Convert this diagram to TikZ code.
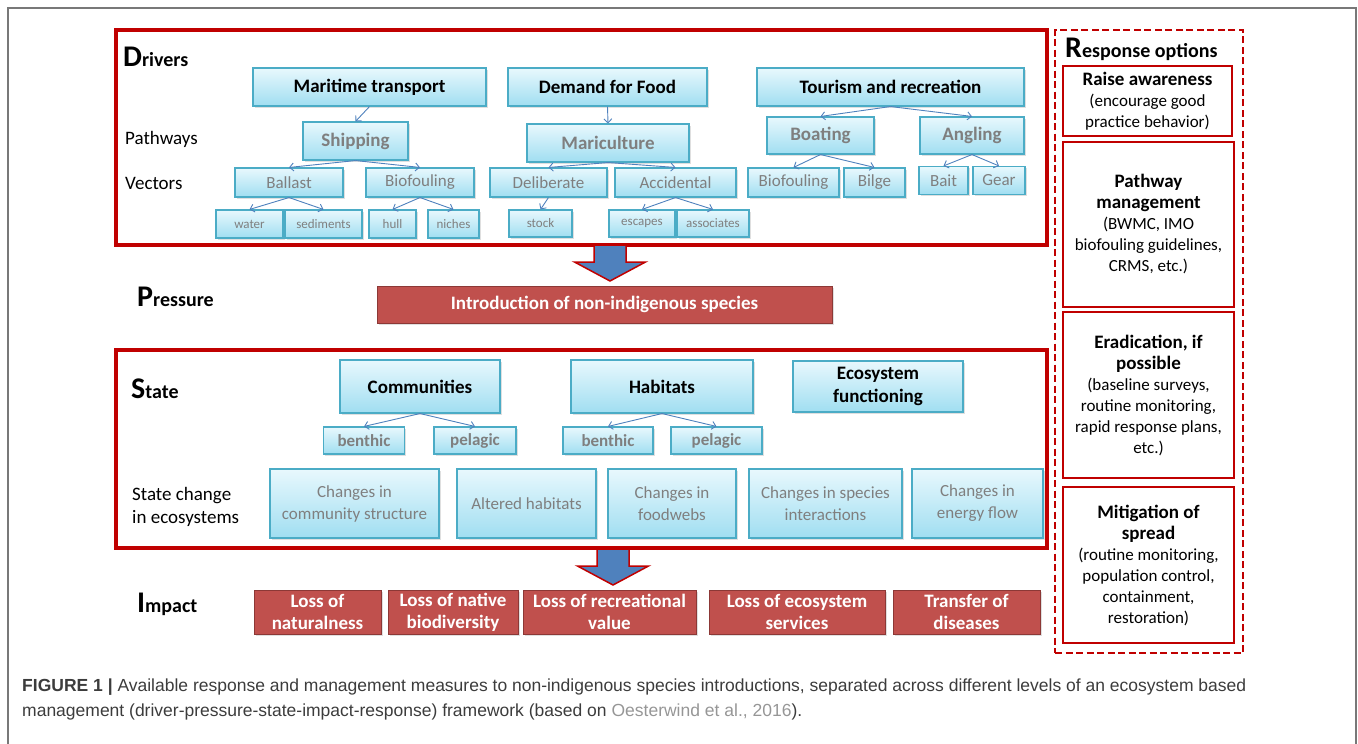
\documentclass[tikz,border=0pt]{standalone}
\usepackage{fontspec}
\setmainfont{Carlito}
\newfontfamily\capfont{Liberation Sans}
\usetikzlibrary{
  arrows.meta,
  shadows,      % "drop shadow"
}
\definecolor{darkred}{RGB}{192,0,0}
\definecolor{softred}{RGB}{192,80,77}
\definecolor{edgered}{RGB}{140,56,54}
\definecolor{aqua}{RGB}{75,172,198}
\definecolor{linkblue}{RGB}{79,129,189}
\definecolor{cyantop}{RGB}{232,248,253}
\definecolor{cyanbot}{RGB}{160,222,241}
\definecolor{midgray}{RGB}{127,127,127}
\definecolor{framegray}{RGB}{120,120,120}
\definecolor{capgray}{RGB}{60,60,60}
\definecolor{refgray}{RGB}{150,150,150}
\newcommand{\lvltitle}[2]{\bfseries{\fontsize{30}{30}\selectfont #1}{\fontsize{20}{20}\selectfont #2}}
\newcommand{\rtitle}[1]{{\fontsize{19}{23}\selectfont\bfseries #1}}
\newcommand{\blockarrow}[3]{% x, top, tip
  \draw[blockarr] (#1-16,#2) -- (#1+16,#2) -- (#1+16,#3-19) -- (#1+35.5,#3-19)
    -- (#1,#3) -- (#1-35.5,#3-19) -- (#1-16,#3-19) -- cycle;}
\tikzset{
  font=\fontsize{19}{23}\selectfont,
  >={Straight Barb[length=4pt,width=8pt]},
  wh/.style 2 args={minimum width=#1, minimum height=#2},
  cyanbox/.style={
    draw=aqua,
    line width=1.1pt,
    top color=cyantop,
    bottom color=cyanbot,
    inner sep=0pt,
    align=center,
    drop shadow={opacity=0.25,shadow xshift=1.5pt,shadow yshift=-1.5pt}
  },
  topbox/.style={cyanbox, font=\fontsize{19}{23}\selectfont\bfseries},
  pathbox/.style={cyanbox, text=midgray, font=\fontsize{19}{23}\selectfont\bfseries},
  vecbox/.style={cyanbox, text=midgray, font=\fontsize{17}{21}\selectfont},
  subbox/.style={cyanbox, text=midgray, font=\fontsize{13}{16}\selectfont},
  kindbox/.style={cyanbox, text=midgray, font=\fontsize{17}{21}\selectfont\bfseries},
  changebox/.style={cyanbox, text=midgray, font=\fontsize{17}{22}\selectfont},
  impbox/.style={
    draw=edgered,
    line width=1pt,
    fill=softred,
    text=white,
    inner sep=0pt,
    align=center,
    font=\fontsize{19}{22}\selectfont\bfseries,
    drop shadow={opacity=0.25,shadow xshift=1.5pt,shadow yshift=-1.5pt}
  },
  respbox/.style={
    draw=darkred,
    line width=1.3pt,
    fill=white,
    inner sep=0pt,
    align=center,
    font=\fontsize{17}{21}\selectfont
  },
  levelframe/.style={draw=darkred, line width=4pt, inner sep=0pt},
  respframe/.style={draw=darkred, line width=2.5pt, dash pattern=on 7pt off 3.5pt, inner sep=0pt},
  link/.style={->, color=linkblue, line width=0.9pt},
  blockarr/.style={fill=linkblue, draw=darkred, line width=1.5pt, line join=miter},
  lvl/.style={anchor=base west, inner sep=0pt},
  side/.style={anchor=west, inner sep=0pt, align=left},
  caption/.style={anchor=base west, inner sep=0pt, text=capgray, font=\capfont\fontsize{17.5}{21}\selectfont}
}

\begin{document}
\begin{tikzpicture}[x=1pt, y=-1pt]
\useasboundingbox (0,0) rectangle (1358,744);
\draw[framegray, line width=1.2pt] (8,744) -- (8,8) -- (1356,8) -- (1356,744);

% level frames
\node[levelframe, wh={931}{215}] (drivers) at (581.5,137.5) {};
\node[levelframe, wh={931}{198}] (state) at (581.5,449) {};
\node[respframe, wh={188}{623}] (response) at (1149,341.5) {};

\node[lvl] (tdrv) at (123,66) {\lvltitle{D}{rivers}};
\node[lvl] (tprs) at (137,306) {\lvltitle{P}{ressure}};
\node[lvl] (tsta) at (131,398) {\lvltitle{S}{tate}};
\node[lvl] (timp) at (137,612) {\lvltitle{I}{mpact}};
\node[lvl] (tres) at (1065,57) {\lvltitle{R}{esponse options}};

% drivers
\node[topbox, wh={233}{38}] (mt) at (369.5,87) {Maritime transport};
\node[topbox, wh={199}{38}] (food) at (607.5,87) {Demand for Food};
\node[topbox, wh={267}{38}] (tour) at (890.5,87) {Tourism and recreation};

\node[side] (lpath) at (125,139) {Pathways};
\node[side] (lvec) at (125,183) {Vectors};

\node[pathbox, wh={105}{38}] (ship) at (355.5,141) {Shipping};
\node[pathbox, wh={162}{38}] (maric) at (608,143) {Mariculture};
\node[pathbox, wh={107}{37}] (boat) at (820.5,135.5) {Boating};
\node[pathbox, wh={104}{37}] (angl) at (972,135.5) {Angling};

\node[vecbox, wh={108}{29}] (ballast) at (289,182.5) {Ballast};
\node[vecbox, wh={108}{29}] (biofs) at (420,182.5) {Biofouling};
\node[vecbox, wh={117}{29}] (delib) at (548.5,182.5) {Deliberate};
\node[vecbox, wh={121}{29}] (accid) at (675.5,182.5) {Accidental};
\node[vecbox, wh={91}{29}] (biofb) at (793.5,182.5) {Biofouling};
\node[vecbox, wh={61}{29}] (bilge) at (874.5,182.5) {Bilge};
\node[vecbox, wh={49}{28}] (bait) at (943.5,180.5) {Bait};
\node[vecbox, wh={52}{28}] (gear) at (999,180.5) {Gear};

\node[subbox, wh={67}{28}] (water) at (249.5,224) {water};
\node[subbox, wh={77}{28}] (sedim) at (323.5,224) {sediments};
\node[subbox, wh={47}{28}] (hull) at (392.5,224) {hull};
\node[subbox, wh={51}{28}] (niches) at (453.5,224) {niches};
\node[subbox, wh={63}{27}] (stock) at (540.5,223.5) {stock};
\node[subbox, wh={66}{27}] (escap) at (642,223.5) {escapes};
\node[subbox, wh={72}{27}] (assoc) at (713,223.5) {associates};

\path[link]
  (mt.south)      edge (ship.north)
  (ship.south)    edge (ballast.north) edge (biofs.north)
  (ballast.south) edge (water.north)   edge (sedim.north)
  (biofs.south)   edge (hull.north)    edge (niches.north)
  (food.south)    edge (maric.north)
  (maric.south)   edge (delib.north)   edge (accid.north)
  (delib.south)   edge (stock.north)
  (accid.south)   edge (escap.north)   edge (assoc.north)
  (tour.south)    edge (boat.north)    edge (angl.north)
  (boat.south)    edge (biofb.north)   edge (bilge.north)
  (angl.south)    edge (bait.north)    edge (gear.north);

% pressure
\blockarrow{610}{245}{281}
\node[impbox, wh={455}{37}] (intro) at (604.5,304.5) {Introduction of non-indigenous species};

% state
\node[topbox, wh={160}{53}] (comm) at (420,386.5) {Communities};
\node[topbox, wh={182}{53}] (hab) at (662,386.5) {Habitats};
\node[topbox, wh={170}{51}] (ecof) at (878,386.5) {Ecosystem\\functioning};

\node[kindbox, wh={81}{27}] (benc) at (364,440.5) {benthic};
\node[kindbox, wh={82}{27}] (pelc) at (475,440.5) {pelagic};
\node[kindbox, wh={90}{27}] (benh) at (608,440.5) {benthic};
\node[kindbox, wh={91}{27}] (pelh) at (716.5,440.5) {pelagic};

\path[link]
  (comm.south) edge (benc.north) edge (pelc.north)
  (hab.south)  edge (benh.north) edge (pelh.north);

\node[side] (lchg) at (132,506.5) {State change\\in ecosystems};
\node[changebox, wh={169}{69}] (ch1) at (354.5,503.5) {Changes in\\community structure};
\node[changebox, wh={139}{69}] (ch2) at (526.5,503.5) {Altered habitats};
\node[changebox, wh={128}{69}] (ch3) at (672,503.5) {Changes in\\foodwebs};
\node[changebox, wh={153}{69}] (ch4) at (825.5,503.5) {Changes in species\\interactions};
\node[changebox, wh={131}{69}] (ch5) at (977.5,503.5) {Changes in\\energy flow};

% impact
\blockarrow{613}{549}{585}
\node[impbox, wh={127}{44}] (imp1) at (317.5,612) {Loss of\\naturalness};
\node[impbox, wh={130}{44}] (imp2) at (453,612) {Loss of native\\biodiversity};
\node[impbox, wh={173}{44}] (imp3) at (609.5,612) {Loss of recreational\\value};
\node[impbox, wh={176}{44}] (imp4) at (797,612) {Loss of ecosystem\\services};
\node[impbox, wh={147}{44}] (imp5) at (966.5,612) {Transfer of\\diseases};

% response options
\node[respbox, wh={169}{70}] (raise) at (1147.5,101)
  {\rtitle{Raise awareness}\\(encourage good\\practice behavior)};
\node[respbox, wh={171}{165}] (pathm) at (1148.5,224.5)
  {\rtitle{Pathway}\\\rtitle{management}\\(BWMC, IMO\\biofouling guidelines,\\CRMS, etc.)};
\node[respbox, wh={171}{166}] (erad) at (1148.5,395)
  {\rtitle{Eradication, if}\\\rtitle{possible}\\(baseline surveys,\\routine monitoring,\\rapid response plans,\\etc.)};
\node[respbox, wh={171}{156}] (mitig) at (1148.5,565)
  {\rtitle{Mitigation of}\\\rtitle{spread}\\(routine monitoring,\\population control,\\containment,\\restoration)};

% caption
\node[caption] (cap1) at (22,691) {\textbf{FIGURE 1 |} Available response and management measures to non-indigenous species introductions, separated across different levels of an ecosystem based};
\node[caption] (cap2) at (22,716) {management (driver-pressure-state-impact-response) framework (based on \textcolor{refgray}{Oesterwind et al., 2016}).};
\end{tikzpicture}
\end{document}
